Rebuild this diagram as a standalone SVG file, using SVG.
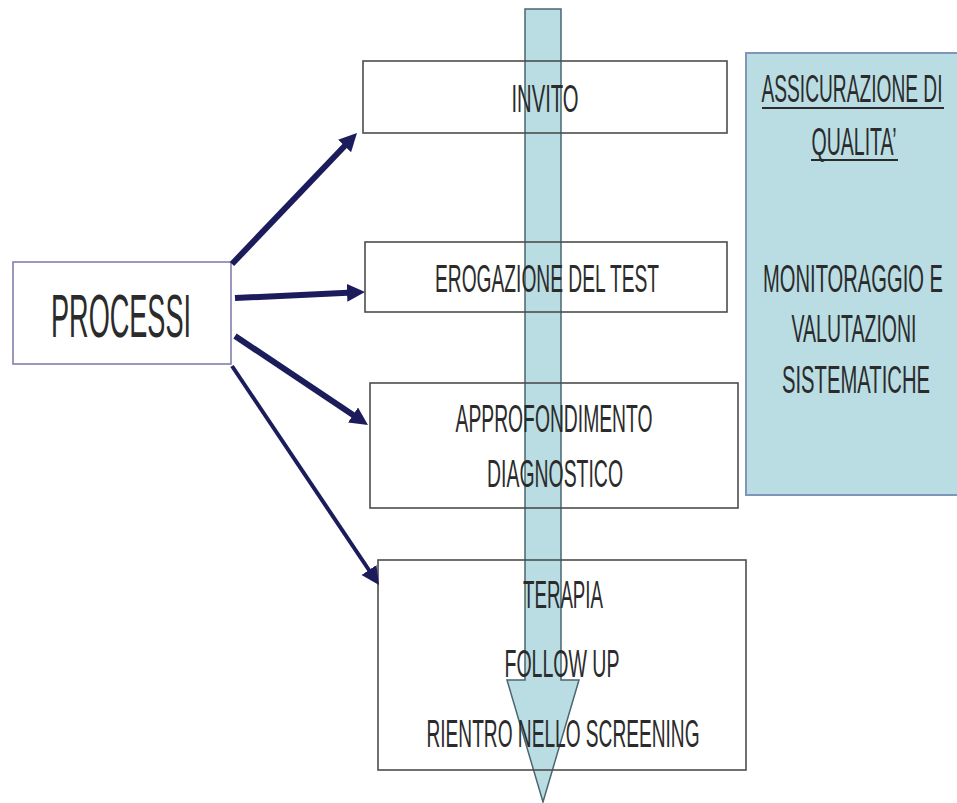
<svg xmlns="http://www.w3.org/2000/svg" width="957" height="803" viewBox="0 0 957 803">
  <style>
    .box { fill: none; stroke: #4d4d4d; stroke-width: 1.6; }
    .lbl { font-family: "Liberation Sans", "DejaVu Sans", sans-serif; font-size: 39px; fill: #2b2b2b; text-anchor: middle; }
    .conn { stroke: #1c1c5c; stroke-width: 6; fill: none; }
    .ul { stroke: #2b2b2b; stroke-width: 2; }
  </style>
  <defs>
    <marker id="ah" markerUnits="userSpaceOnUse" markerWidth="20" markerHeight="20" refX="6" refY="9" orient="auto">
      <path d="M0,0 L18,9 L0,18 z" fill="#1c1c5c"/>
    </marker>
  </defs>
  <rect width="957" height="803" fill="#ffffff"/>

  <g id="quality">
    <rect x="746" y="53" width="213" height="442" fill="#b9dde3" stroke="#7f96b8" stroke-width="2"/>
    <text class="lbl" x="852" y="102" textLength="181" lengthAdjust="spacingAndGlyphs">ASSICURAZIONE DI</text>
    <line class="ul" x1="762" y1="108" x2="944" y2="108"/>
    <text class="lbl" x="854" y="155" textLength="85" lengthAdjust="spacingAndGlyphs">QUALITA’</text>
    <line class="ul" x1="811" y1="160" x2="898" y2="160"/>
    <text class="lbl" x="853" y="292" textLength="180" lengthAdjust="spacingAndGlyphs">MONITORAGGIO E</text>
    <text class="lbl" x="854" y="342" textLength="125" lengthAdjust="spacingAndGlyphs">VALUTAZIONI</text>
    <text class="lbl" x="856" y="393" textLength="148" lengthAdjust="spacingAndGlyphs">SISTEMATICHE</text>
  </g>

  <g id="flow">
    <polygon points="525,9 561,9 561,680 579,680 543,802 507,680 525,680" fill="#b9dde3" stroke="#4a6670" stroke-width="1.5"/>
  </g>

  <g id="processi">
    <rect x="13" y="262" width="218" height="102" fill="none" stroke="#8080b0" stroke-width="1.6"/>
    <text class="lbl" x="121" y="337" style="font-size:61px" textLength="140" lengthAdjust="spacingAndGlyphs">PROCESSI</text>
  </g>

  <g id="invito">
    <rect class="box" x="363" y="61" width="364" height="72"/>
    <text class="lbl" x="545" y="112" textLength="67" lengthAdjust="spacingAndGlyphs">INVITO</text>
  </g>

  <g id="erogazione">
    <rect class="box" x="365" y="242" width="362" height="70"/>
    <text class="lbl" x="547" y="292" textLength="224" lengthAdjust="spacingAndGlyphs">EROGAZIONE DEL TEST</text>
  </g>

  <g id="approfondimento">
    <rect class="box" x="370" y="383" width="368" height="125"/>
    <text class="lbl" x="554" y="432" textLength="197" lengthAdjust="spacingAndGlyphs">APPROFONDIMENTO</text>
    <text class="lbl" x="555" y="487" textLength="136" lengthAdjust="spacingAndGlyphs">DIAGNOSTICO</text>
  </g>

  <g id="terapia">
    <rect class="box" x="378" y="560" width="368" height="210"/>
    <text class="lbl" x="563" y="608" textLength="80" lengthAdjust="spacingAndGlyphs">TERAPIA</text>
    <text class="lbl" x="562" y="677" textLength="115" lengthAdjust="spacingAndGlyphs">FOLLOW UP</text>
    <text class="lbl" x="563" y="747" textLength="273" lengthAdjust="spacingAndGlyphs">RIENTRO NELLO SCREENING</text>
  </g>

  <g id="connectors">
    <line class="conn" x1="232" y1="264" x2="348.7" y2="141.7" marker-end="url(#ah)"/>
    <line class="conn" x1="235" y1="298" x2="353" y2="292.6" marker-end="url(#ah)"/>
    <line class="conn" x1="235" y1="336" x2="358" y2="418.3" marker-end="url(#ah)"/>
    <line class="conn" x1="232" y1="366" x2="372.3" y2="575" marker-end="url(#ah)" style="stroke-width:4"/>
  </g>
</svg>
